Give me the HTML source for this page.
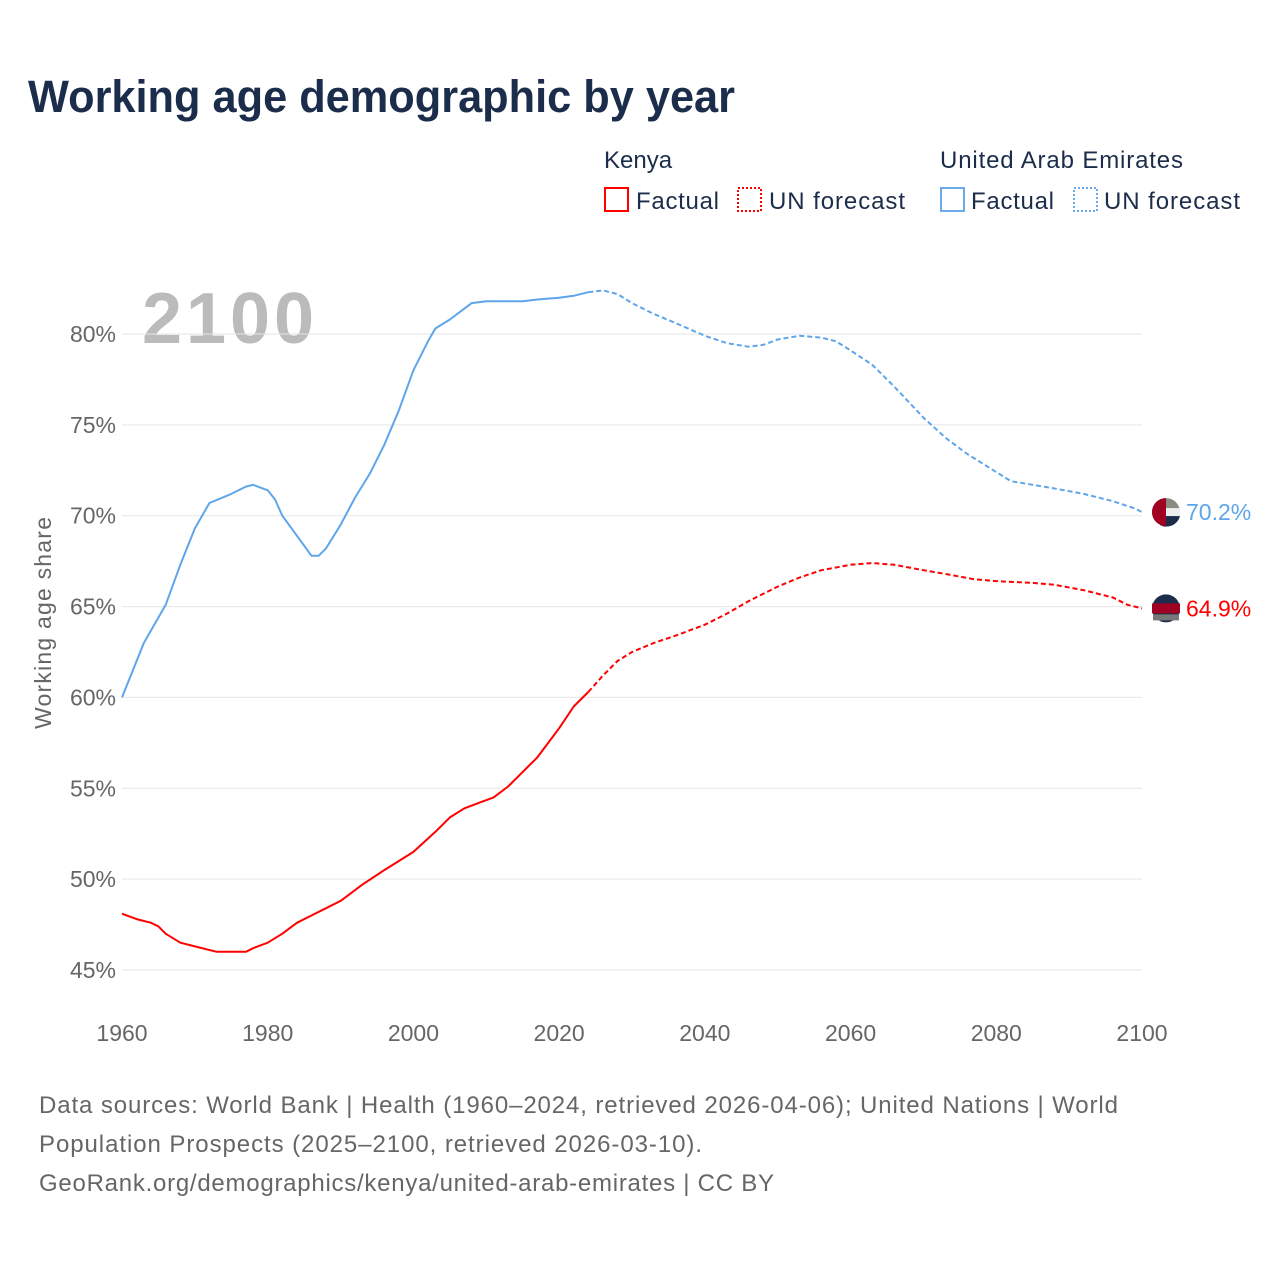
<!DOCTYPE html>
<html><head><meta charset="utf-8">
<style>
body{margin:0;background:#fff;font-family:"Liberation Sans",sans-serif;}
#wrap{position:relative;width:1280px;height:1280px;overflow:hidden}
</style></head>
<body>
<div id="wrap">
<svg id="chart" width="1280" height="1280" xmlns="http://www.w3.org/2000/svg">
<text x="28" y="112" font-size="45" font-weight="bold" fill="#1b2d4b" textLength="707" lengthAdjust="spacingAndGlyphs">Working age demographic by year</text>
<g font-size="24" fill="#1b2d4b">
<text x="604" y="168">Kenya</text>
<rect x="605" y="188" width="23" height="23" fill="none" stroke="#f00" stroke-width="2"/>
<text x="636" y="209" textLength="83">Factual</text>
<rect x="738" y="188" width="23" height="23" fill="none" stroke="#f00" stroke-width="2" stroke-dasharray="2,2"/>
<text x="769" y="209" textLength="136">UN forecast</text>
<text x="940" y="168" textLength="243">United Arab Emirates</text>
<rect x="941" y="188" width="23" height="23" fill="none" stroke="#6aaae8" stroke-width="2"/>
<text x="971" y="209" textLength="83">Factual</text>
<rect x="1074" y="188" width="23" height="23" fill="none" stroke="#6aaae8" stroke-width="2" stroke-dasharray="2,2"/>
<text x="1104" y="209" textLength="136">UN forecast</text>
</g>
<text x="142" y="343" font-size="72" font-weight="bold" fill="#bbb" textLength="172">2100</text>
<text transform="translate(51,623) rotate(-90)" text-anchor="middle" font-size="23" fill="#666" textLength="212">Working age share</text>
<g id="grid"></g><g id="lines"></g><g id="ends"></g>
<g font-size="24" fill="#666">
<text x="39" y="1113" textLength="1079">Data sources: World Bank | Health (1960–2024, retrieved 2026-04-06); United Nations | World</text>
<text x="39" y="1152" textLength="663">Population Prospects (2025–2100, retrieved 2026-03-10).</text>
<text x="39" y="1191" textLength="735">GeoRank.org/demographics/kenya/united-arab-emirates | CC BY</text>
</g>
</svg>
</div>
<script>
const yTicks=[45,50,55,60,65,70,75,80];
const xTicks=[1960,1980,2000,2020,2040,2060,2080,2100];
const uaeYears=[1960,1963,1966,1968,1970,1972,1975,1977,1978,1980,1981,1982,1984,1986,1987,1988,1990,1992,1994,1996,1998,2000,2002,2003,2005,2007,2008,2010,2015,2017,2020,2022,2024,2026,2028,2030,2033,2036,2040,2043,2046,2048,2050,2053,2056,2058,2060,2063,2066,2070,2073,2076,2080,2082,2085,2088,2092,2096,2099,2100];
const uaeValues=[60,63,65.1,67.3,69.3,70.7,71.2,71.6,71.7,71.4,70.9,70,68.9,67.8,67.8,68.2,69.5,71,72.3,73.9,75.8,78,79.6,80.3,80.8,81.4,81.7,81.8,81.8,81.9,82,82.1,82.3,82.4,82.2,81.7,81.1,80.6,79.9,79.5,79.3,79.4,79.7,79.9,79.8,79.6,79.1,78.3,77.1,75.4,74.3,73.4,72.4,71.9,71.7,71.5,71.2,70.8,70.4,70.2];
const kenYears=[1960,1962,1964,1965,1966,1968,1970,1973,1977,1978,1980,1982,1984,1986,1988,1990,1993,1996,2000,2003,2005,2007,2009,2011,2013,2015,2017,2020,2022,2024,2026,2028,2030,2033,2036,2040,2043,2046,2050,2053,2056,2060,2063,2066,2070,2073,2077,2080,2085,2088,2092,2096,2098,2100];
const kenValues=[48.1,47.8,47.6,47.4,47.0,46.5,46.3,46.0,46.0,46.2,46.5,47.0,47.6,48.0,48.4,48.8,49.7,50.5,51.5,52.6,53.4,53.9,54.2,54.5,55.1,55.9,56.7,58.3,59.5,60.3,61.2,62.0,62.5,63.0,63.4,64.0,64.6,65.3,66.1,66.6,67.0,67.3,67.4,67.3,67.0,66.8,66.5,66.4,66.3,66.2,65.9,65.5,65.1,64.9];
const lastFactual=2024;
const NS="http://www.w3.org/2000/svg";
const X=y=>122+(y-1960)*(1020/140);
const Y=p=>334+(80-p)*(636/35);
function mk(tag,attrs,parent){const e=document.createElementNS(NS,tag);for(const k in attrs)e.setAttribute(k,attrs[k]);parent.appendChild(e);return e;}
const grid=document.getElementById('grid');
yTicks.forEach(t=>{
 const l=mk('line',{x1:122,x2:1142,y1:Y(t),y2:Y(t),stroke:'#e6e6e6','stroke-width':1},grid);
 
 
 const tx=mk('text',{x:116,y:Y(t)+8,'text-anchor':'end','font-size':23,fill:'#666'},grid);
 tx.textContent=t+'%';
 
 
});
xTicks.forEach(t=>{
 const tx=mk('text',{x:X(t),y:1041,'text-anchor':'middle','font-size':23,fill:'#666'},grid);
 tx.textContent=t;
 
 
});
const lines=document.getElementById('lines');
function series(years,vals,color,name){
 const f=[],u=[];
 years.forEach((yr,i)=>{const pt=X(yr).toFixed(1)+','+Y(vals[i]).toFixed(1);if(yr<=lastFactual)f.push(pt);if(yr>=lastFactual)u.push(pt);});
 const a=mk('polyline',{points:f.join(' '),fill:'none',stroke:color,'stroke-width':2,'stroke-linejoin':'round'},lines);
 
 
 const b=mk('polyline',{points:u.join(' '),fill:'none',stroke:color,'stroke-width':2,'stroke-dasharray':'5,3'},lines);
 
 
 const last=vals[vals.length-1];
 const ends=document.getElementById('ends');
 const c=mk('circle',{cx:1166,cy:Y(last),r:14,fill:name==='uae'?'#8a8a80':'#1b2d4b'},ends);
 
 
 if(name==='uae'){
  const r1=mk('rect',{x:1160,y:Y(last)-4,width:20,height:8,fill:'#eee'},ends);
  
  const r2=mk('path',{d:`M1160 ${Y(last)+4} L1180 ${Y(last)+4} A14 14 0 0 1 1160 ${Y(last)+13} Z`,fill:'#1b2d4b'},ends);
  
  const p=mk('path',{d:`M1166 ${Y(last)-14} A14 14 0 0 0 1166 ${Y(last)+14} Z`,fill:'#a00022'},ends);
  
 } else {
  const r1=mk('rect',{x:1152,y:Y(last)-5,width:28,height:10,fill:'#a00022'},ends);
  
  const r2=mk('rect',{x:1153,y:Y(last)+6,width:26,height:6,fill:'#777'},ends);
  
 }
 const t=mk('text',{x:1186,y:Y(last)+8,'font-size':23,fill:color},ends);
 t.textContent=last.toFixed(1)+'%';
 
 
}
series(uaeYears,uaeValues,'#5fa5ea','uae');
series(kenYears,kenValues,'#ff0000','kenya');
</script>
</body></html>
